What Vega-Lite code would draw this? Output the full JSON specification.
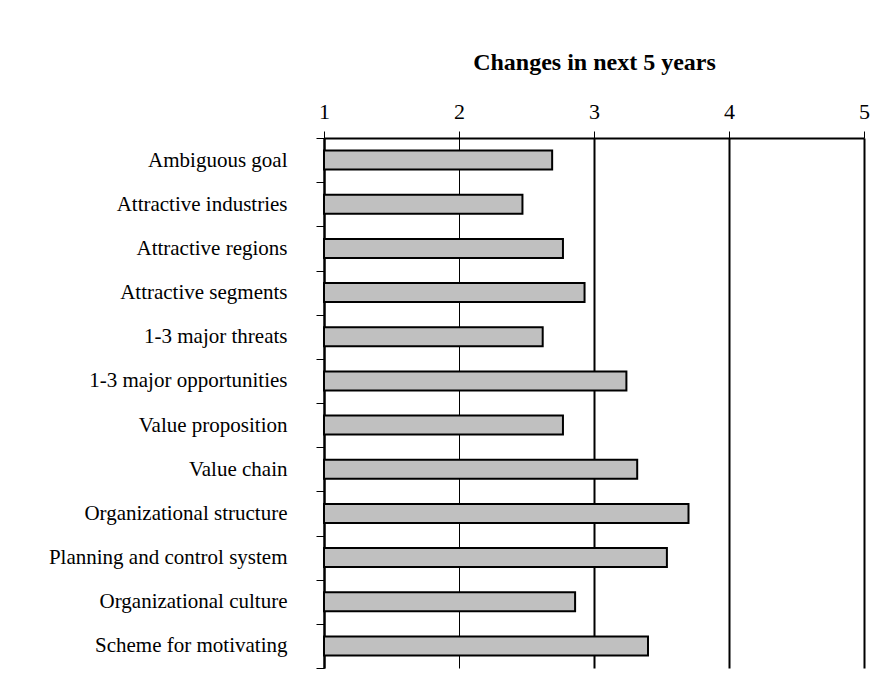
{
  "$schema": "https://vega.github.io/schema/vega-lite/v6.json",
  "autosize": "none",
  "width": 540,
  "height": 530,
  "padding": {"left": 324, "top": 138, "right": 16, "bottom": 14},
  "background": "white",
  "config": {"view": {"stroke": null}},
  "data": {
    "values": [
      {"item": "Ambiguous goal", "score": 2.69},
      {"item": "Attractive industries", "score": 2.47},
      {"item": "Attractive regions", "score": 2.77},
      {"item": "Attractive segments", "score": 2.93},
      {"item": "1-3 major threats", "score": 2.62},
      {"item": "1-3 major opportunities", "score": 3.24},
      {"item": "Value proposition", "score": 2.77},
      {"item": "Value chain", "score": 3.32},
      {"item": "Organizational structure", "score": 3.70},
      {"item": "Planning and control system", "score": 3.54},
      {"item": "Organizational culture", "score": 2.86},
      {"item": "Scheme for motivating", "score": 3.40}
    ]
  },
  "mark": {"type": "bar", "fill": "#c0c0c0", "stroke": "black", "strokeWidth": 2, "size": 19},
  "encoding": {
    "y": {
      "field": "item",
      "type": "nominal",
      "sort": null,
      "scale": {"paddingInner": 0, "paddingOuter": 0},
      "axis": {
        "title": null,
        "tickBand": "extent",
        "tickSize": 8,
        "tickColor": "black",
        "tickWidth": 1,
        "domainColor": "black",
        "domainWidth": 2,
        "labelFont": "Liberation Serif",
        "labelFontSize": 21,
        "labelColor": "black",
        "labelPadding": 29,
        "labelLimit": 400,
        "grid": false
      }
    },
    "x": {
      "field": "score",
      "type": "quantitative",
      "scale": {"domain": [1, 5], "zero": false, "nice": false},
      "axis": {
        "orient": "top",
        "values": [1, 2, 3, 4, 5],
        "format": "d",
        "title": "Changes in next 5 years",
        "titleFont": "Liberation Serif",
        "titleFontSize": 24,
        "titleFontWeight": "bold",
        "titleColor": "black",
        "titleBaseline": "alphabetic",
        "titleY": -69,
        "grid": true,
        "gridColor": "black",
        "gridOpacity": 1,
        "gridWidth": {"condition": {"test": "datum.value === 2", "value": 1}, "value": 2},
        "domainColor": "black",
        "domainWidth": 2,
        "tickColor": "black",
        "tickSize": 7,
        "tickWidth": 1,
        "labelFont": "Liberation Serif",
        "labelFontSize": 22,
        "labelColor": "black",
        "labelBaseline": "alphabetic",
        "labelPadding": 13,
        "labelFlush": false
      }
    },
    "x2": {"datum": 1}
  }
}
